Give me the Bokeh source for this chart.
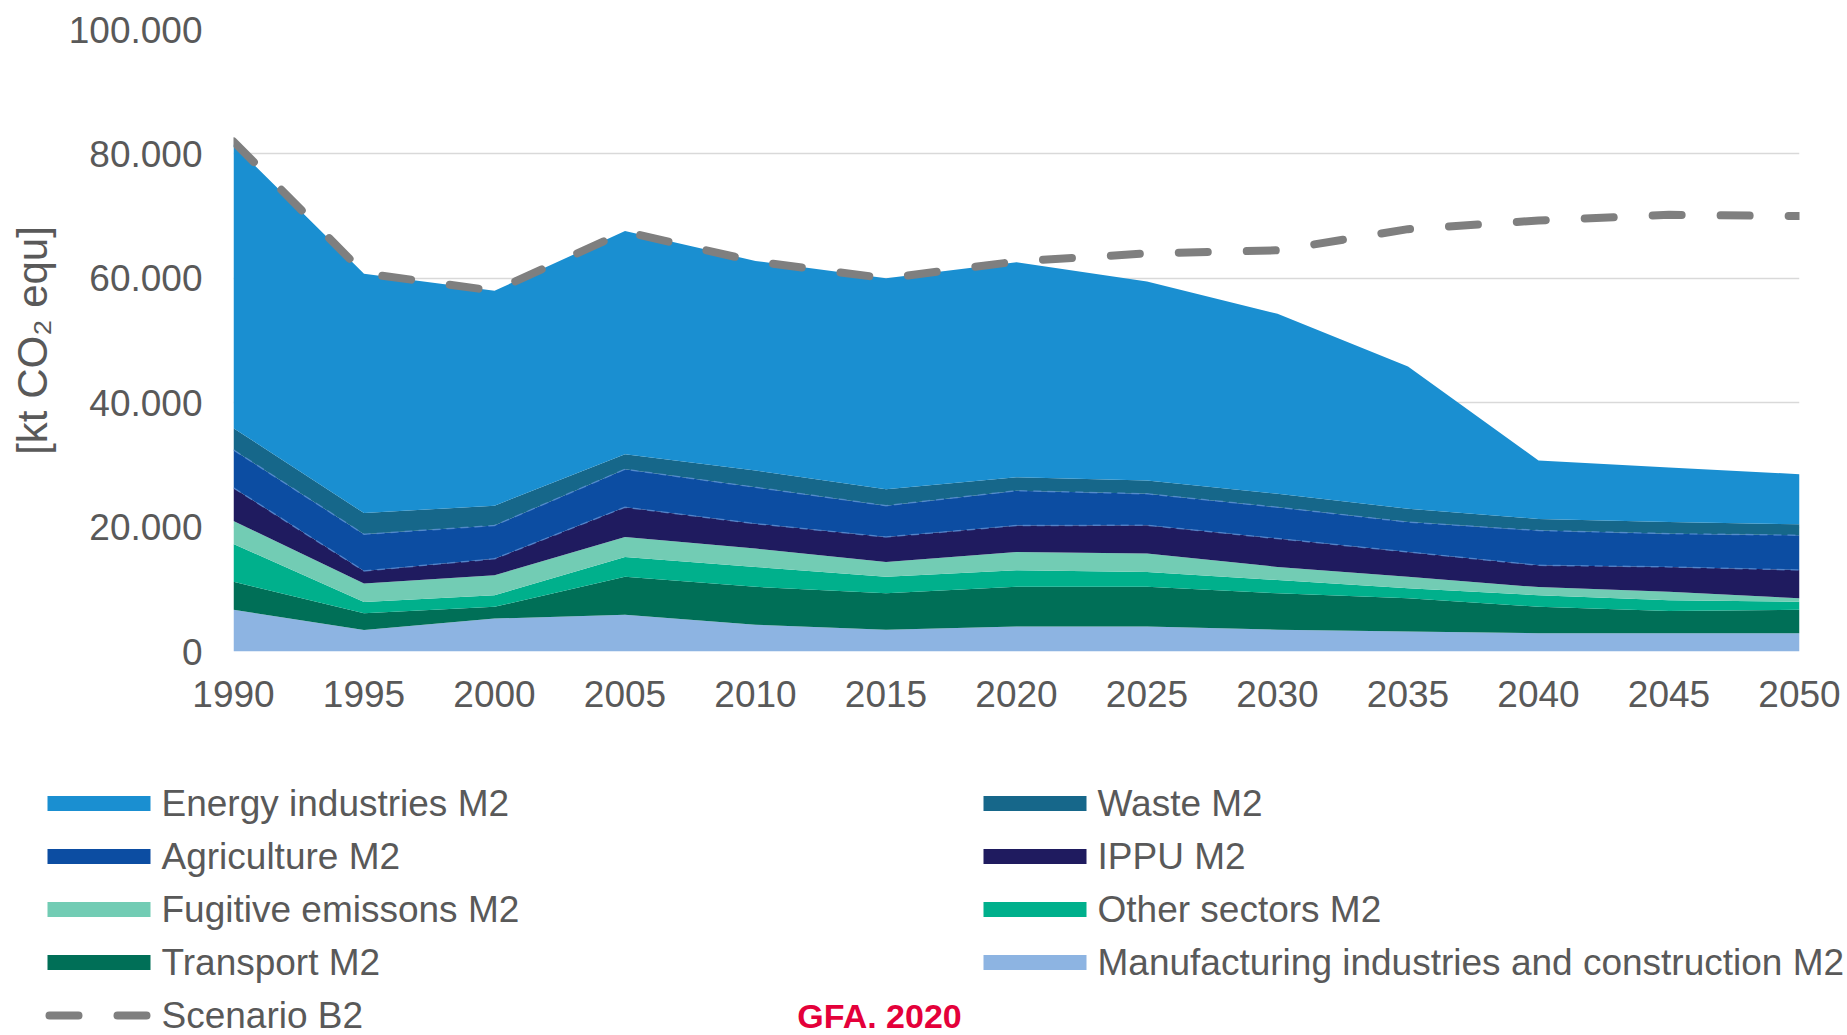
from bokeh.plotting import figure
from bokeh.models import Range1d, FixedTicker, ColumnDataSource
from bokeh.layouts import column
from bokeh.embed import file_html
from bokeh.resources import INLINE
from bokeh.core.properties import value
from bokeh.transform import stack

# ---------------- data (kt CO2 equ) ----------------
years = [1990, 1995, 2000, 2005, 2010, 2015, 2020, 2025, 2030, 2035, 2040, 2045, 2050]
manufacturing = [6700, 3450, 5300, 5900, 4300, 3500, 4000, 4000, 3500, 3200, 2950, 2950, 2950]
transport = [4500, 2700, 1900, 6100, 6100, 5850, 6400, 6400, 5850, 5350, 4250, 3550, 3750]
other_sectors = [6100, 1800, 1850, 3200, 3200, 2650, 2650, 2400, 2150, 1600, 1850, 1750, 1300]
fugitive = [3700, 3000, 3200, 3200, 2950, 2400, 2950, 2950, 2100, 1850, 1300, 1350, 550]
ippu = [5300, 2000, 2650, 4800, 4000, 4000, 4250, 4550, 4550, 4000, 3500, 4000, 4550]
agriculture = [6100, 5900, 5350, 6100, 5850, 5050, 5600, 5050, 5050, 4800, 5600, 5350, 5600]
waste = [3500, 3400, 3200, 2400, 2700, 2650, 2150, 2150, 2150, 2150, 1850, 1850, 1750]
energy = [45600, 38500, 34550, 35900, 33700, 33900, 34600, 32000, 28950, 22850, 9400, 8800, 8050]
scenario_b2 = [82000, 60800, 58000, 67500, 62700, 60000, 62700, 64000, 64500, 67900, 69300, 70200, 70000]

y_ticks = [0, 20000, 40000, 60000, 80000, 100000]
y_tick_labels = ["0", "20.000", "40.000", "60.000", "80.000", "100.000"]
x_ticks = [1990, 1995, 2000, 2005, 2010, 2015, 2020, 2025, 2030, 2035, 2040, 2045, 2050]

keys = ["manuf", "transport", "other", "fugitive", "ippu", "agri", "waste", "energy"]
labels = {
    "manuf": "Manufacturing industries and construction M2",
    "transport": "Transport M2",
    "other": "Other sectors M2",
    "fugitive": "Fugitive emissons M2",
    "ippu": "IPPU M2",
    "agri": "Agriculture M2",
    "waste": "Waste  M2",
    "energy": "Energy industries M2",
}
colors = {
    "manuf": "#8DB4E2",
    "transport": "#006F57",
    "other": "#00B08C",
    "fugitive": "#72CCB4",
    "ippu": "#1F1B5F",
    "agri": "#0C4DA2",
    "waste": "#16678A",
    "energy": "#1A8FD1",
}
scenario_label = "Scenario B2"
source_label = "GFA. 2020"

FONT = "Liberation Sans"
TXT = "#595959"

src = ColumnDataSource(dict(
    year=years, manuf=manufacturing, transport=transport, other=other_sectors,
    fugitive=fugitive, ippu=ippu, agri=agriculture, waste=waste, energy=energy,
))

# ---------------- main chart ----------------
p = figure(width=1847, height=738,
           x_range=Range1d(1990, 2050), y_range=Range1d(0, 100000),
           output_backend="svg", toolbar_location=None,
           min_border_left=233, min_border_right=48,
           min_border_top=29, min_border_bottom=87)
p.frame_align = False
p.outline_line_color = None
p.background_fill_color = "white"
p.border_fill_color = "white"

p.xgrid.visible = False
p.ygrid.ticker = FixedTicker(ticks=y_ticks)
p.ygrid.grid_line_color = "#D9D9D9"
p.ygrid.grid_line_width = 1.5

p.varea_stack(stackers=keys, x="year", color=[colors[k] for k in keys], source=src)

# faint dashed boundaries (as in the original rendering)
for upto in ("ippu", "agri"):
    idx = keys.index(upto) + 1
    p.line(x="year", y=stack(*keys[:idx]), source=src,
           line_color="#5A8FD6", line_width=1.5, line_dash="8 6", line_alpha=0.7)

p.line(years, scenario_b2, line_color="#7F7F7F", line_width=8,
       line_dash="29 39", line_cap="round")

for ax in (p.xaxis[0], p.yaxis[0]):
    ax.axis_line_color = None
    ax.major_tick_line_color = None
    ax.minor_tick_line_color = None
    ax.major_tick_out = 0
    ax.major_tick_in = 0
    ax.major_label_text_font = FONT
    ax.major_label_text_font_size = "37px"
    ax.major_label_text_color = TXT

p.xaxis.ticker = FixedTicker(ticks=x_ticks)
p.xaxis.major_label_standoff = 29

p.yaxis.ticker = FixedTicker(ticks=y_ticks)
p.yaxis.major_label_overrides = {t: l for t, l in zip(y_ticks, y_tick_labels)}
p.yaxis.major_label_standoff = 31
p.yaxis.axis_label = "[kt CO\u2082 equ]"
p.yaxis.axis_label_text_font = FONT
p.yaxis.axis_label_text_font_size = "42px"
p.yaxis.axis_label_text_font_style = "normal"
p.yaxis.axis_label_text_color = TXT
p.yaxis.axis_label_standoff = 10

# ---------------- legend area ----------------
LW, LH = 1847, 297
lg = figure(width=LW, height=LH, x_range=Range1d(0, LW), y_range=Range1d(LH, 0),
            output_backend="svg", toolbar_location=None, min_border=0)
lg.frame_align = False
lg.axis.visible = False
lg.grid.visible = False
lg.outline_line_color = None

col_x = [47, 983]
row_y0, row_dy = 65, 53
sw_w, sw_h, txt_gap = 103, 15, 11

col1 = ["energy", "agri", "fugitive", "transport"]
col2 = ["waste", "ippu", "other", "manuf"]

for ci, col in enumerate((col1, col2)):
    for ri, k in enumerate(col):
        y = row_y0 + ri * row_dy
        x = col_x[ci]
        lg.quad(left=[x], right=[x + sw_w], top=[y - sw_h / 2], bottom=[y + sw_h / 2],
                fill_color=colors[k], line_color=None)
        lg.text(x=[x + sw_w + txt_gap], y=[y], text=[labels[k]],
                text_font=value(FONT), text_font_size="37px", text_color=TXT,
                text_baseline="middle", text_align="left")

# scenario legend entry
ys = row_y0 + 4 * row_dy
lg.line([col_x[0] + 2, col_x[0] + sw_w], [ys, ys], line_color="#7F7F7F",
        line_width=8, line_dash="29 39", line_cap="round")
lg.text(x=[col_x[0] + sw_w + txt_gap], y=[ys], text=[scenario_label],
        text_font=value(FONT), text_font_size="37px", text_color=TXT,
        text_baseline="middle", text_align="left")

lg.text(x=[879], y=[ys], text=[source_label], text_font=value(FONT),
        text_font_size="34px", text_font_style="bold", text_color="#E4003A",
        text_baseline="middle", text_align="center")

layout = column(p, lg, spacing=0)
open("out.html", "w").write(file_html(layout, INLINE))
